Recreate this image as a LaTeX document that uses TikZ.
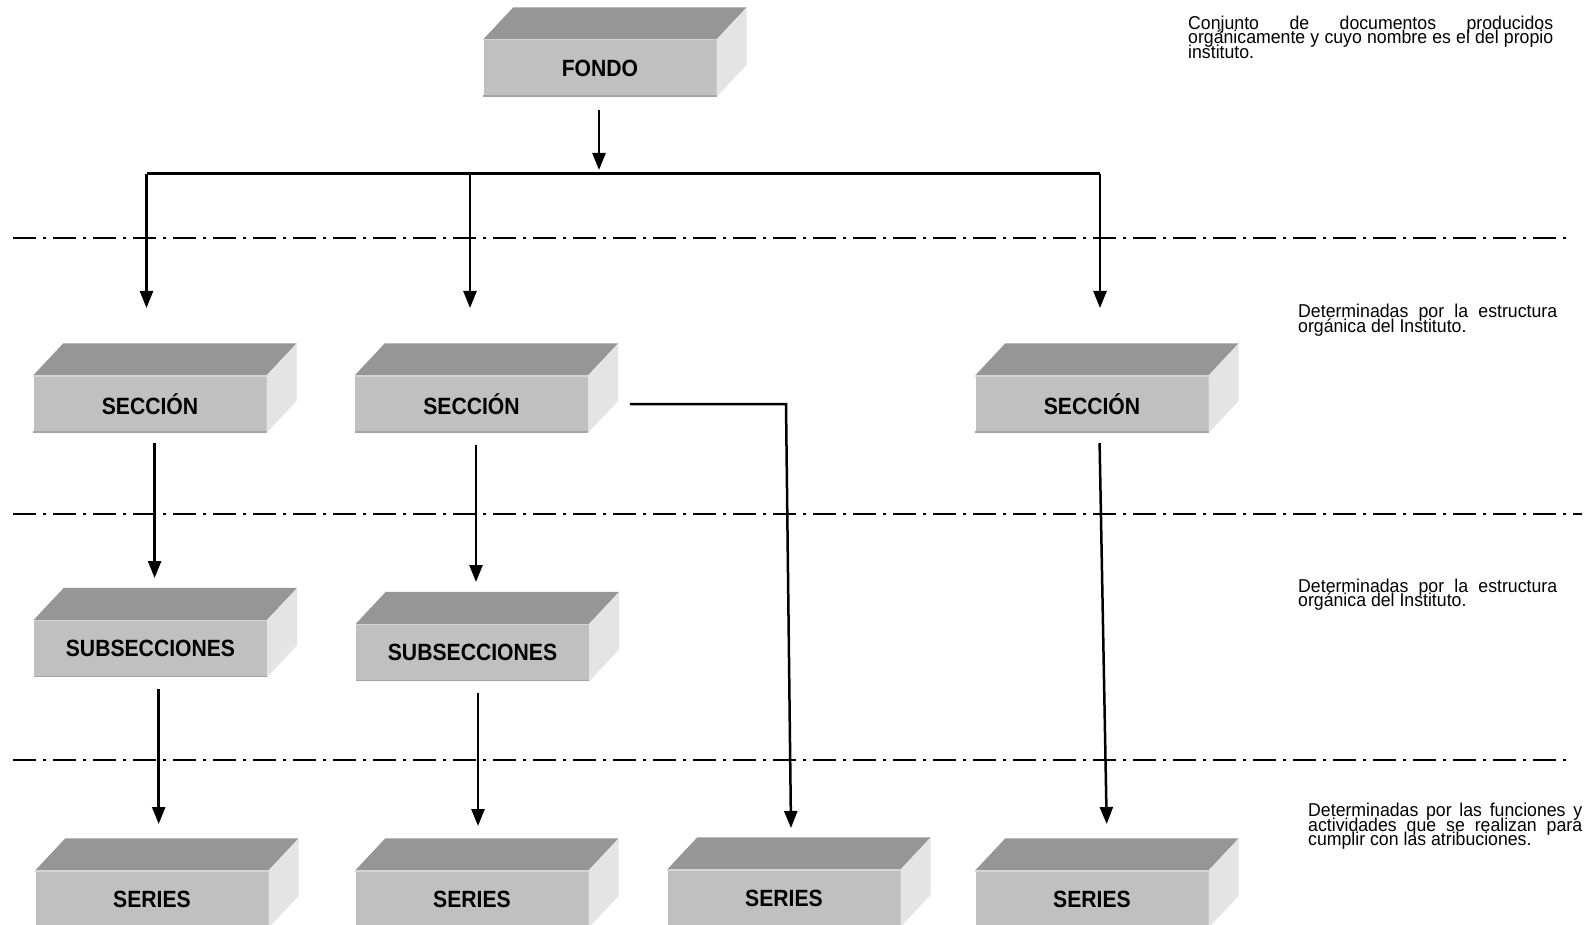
\documentclass[tikz,border=0pt]{standalone}
\usepackage{fontspec}
\usepackage{graphicx}
\setmainfont{Liberation Sans}
\newfontfamily\slabfont[FakeStretch=0.9]{Liberation Sans}
\usetikzlibrary{arrows.meta,calc}

\definecolor{slabfrontc}{RGB}{192,192,192}
\definecolor{slabtopc}{RGB}{150,150,150}
\definecolor{slabsidec}{RGB}{228,228,228}
\definecolor{slabedgec}{RGB}{212,212,212}
\definecolor{slabbottomc}{RGB}{165,165,165}

\tikzset{
  slabfront/.style={rectangle, fill=slabfrontc, minimum width=233pt,
    minimum height=57pt, inner sep=0pt, font=\slabfont\bfseries\fontsize{23.5}{26}\selectfont},
  slabtop/.style={fill=slabtopc},
  slabside/.style={fill=slabsidec},
  arr/.style={line width=2.5pt, -{Triangle[length=17pt,width=13pt]}},
  busline/.style={line width=3pt},
  levelline/.style={line width=2pt, dash pattern=on 23pt off 7pt on 3pt off 7pt},
  note/.style={anchor=base west, inner sep=0pt, font=\fontsize{17.7}{15}\selectfont}
}

% a grey slab: front face as a node, top and right faces beside it
\newcommand\slab[3]{%
  \node[slabfront] (#1) at (#2) {#3};
  \fill[slabtop] (#1.north west) -- ([shift={(30,-32)}]#1.north west)
     -- ([shift={(30,-32)}]#1.north east) -- (#1.north east) -- cycle;
  \fill[slabside] (#1.north east) -- ([shift={(30,-32)}]#1.north east)
     -- ([shift={(30,-32)}]#1.south east) -- (#1.south east) -- cycle;
  \draw[slabedgec, line width=1.2pt] ([yshift=-0.6pt]#1.north west) -- ([yshift=-0.6pt]#1.north east);
  \draw[slabbottomc, line width=1.5pt] ([yshift=0.75pt]#1.south west) -- ([yshift=0.75pt]#1.south east);
}

% justified paragraph of a given width, baseline at its first line, set a little tall
\newcommand\notebox[2]{\scalebox{1}[1.05]{\vtop{\hsize=#1\parindent=0pt\hyphenpenalty=10000
  \pretolerance=-1\tolerance=10000\emergencystretch=0pt
  \baselineskip=13.9pt\lineskiplimit=-20pt\lineskip=0pt #2}}}

\begin{document}
\begin{tikzpicture}[x=1pt, y=-1pt]
  \fill[white] (0,0) rectangle (1595,925);
  \useasboundingbox (0,0) rectangle (1595,925);
  \clip (0,0) rectangle (1595,925);

  % level separators
  \draw[levelline] (13,238) -- (1567,238);
  \draw[levelline] (13,513.7) -- (1582,513.7);
  \draw[levelline] (13,760) -- (1567,760);

  % boxes
  \slab{fondo}{600,68}{FONDO}
  \slab{secA}{150,404}{SECCIÓN}
  \slab{secB}{471.5,404}{SECCIÓN}
  \slab{secC}{1092,404}{SECCIÓN}
  \slab{subA}{150.5,648.5}{SUBSECCIONES}
  \slab{subB}{472.5,652.5}{SUBSECCIONES}
  \slab{serA}{152,899}{SERIES}
  \slab{serB}{472,899}{SERIES}
  \slab{serC}{784,898}{SERIES}
  \slab{serD}{1092,899}{SERIES}

  % connector points
  \coordinate (busM) at (599,174);
  \coordinate (busL) at (146.5,174);
  \coordinate (busC) at (470,174);
  \coordinate (busR) at (1100,174);
  \coordinate (tipSecA) at (146.5,308);
  \coordinate (tipSecB) at (470,308);
  \coordinate (tipSecC) at (1100,308);
  \coordinate (tipSubA) at (154.6,578);
  \coordinate (tipSubB) at (476,582);
  \coordinate (bendB) at (786,404);
  \coordinate (tipSerC) at (791,828);
  \coordinate (tipSerD) at (1106.7,824);
  \coordinate (tipSerA) at (158.7,824);
  \coordinate (tipSerB) at (478,826);

  % FONDO to the sections
  \draw[arr, shorten <=13pt, shorten >=4pt] (fondo.south -| busM) -- (busM);
  \draw[busline] (busL) -- (busR);
  \draw[arr] (busL) -- (tipSecA);
  \draw[arr] (busC) -- (tipSecB);
  \draw[arr] (busR) -- (tipSecC);

  % sections to subsections and series
  \draw[arr] ([xshift=4.6pt,yshift=-10pt]secA.south) -- (tipSubA);
  \draw[arr] ([xshift=4.5pt,yshift=-12.5pt]secB.south) -- (tipSubB);
  \draw[arr] ([xshift=41.6pt]secB.east) -- (bendB) -- (tipSerC);
  \draw[arr] ([xshift=7.6pt,yshift=-10.5pt]secC.south) -- (tipSerD);
  \draw[arr] ([xshift=8.2pt,yshift=-11.7pt]subA.south) -- (tipSerA);
  \draw[arr] ([xshift=5.5pt,yshift=-11.7pt]subB.south) -- (tipSerB);

  % level descriptions
  \node[note] (n1) at (1188,29.3) {\notebox{365pt}{Conjunto de documentos producidos\linebreak orgánicamente y cuyo nombre es el del propio\linebreak instituto.}};
  \node[note] (n2) at (1298,317.7) {\notebox{259pt}{Determinadas por la estructura\linebreak orgánica del Instituto.}};
  \node[note] (n3) at (1298,592.3) {\notebox{259pt}{Determinadas por la estructura\linebreak orgánica del Instituto.}};
  \node[note] (n4) at (1308,816.7) {\notebox{274pt}{Determinadas por las funciones y\linebreak actividades que se realizan para\linebreak cumplir con las atribuciones.}};
\end{tikzpicture}
\end{document}
